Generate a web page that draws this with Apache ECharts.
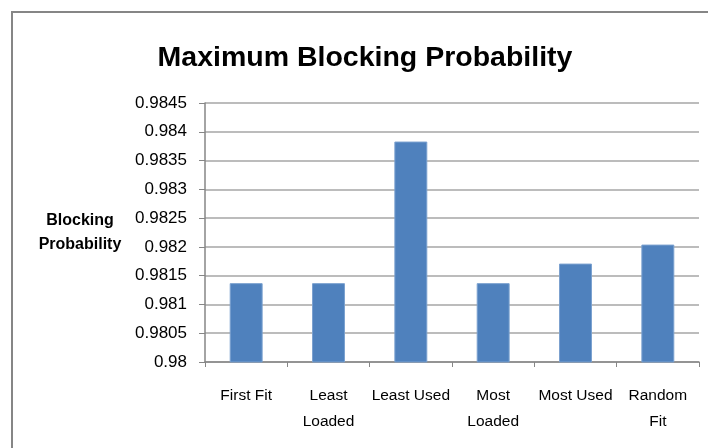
<!DOCTYPE html>
<html>
<head>
<meta charset="utf-8">
<script src="https://cdn.jsdelivr.net/npm/echarts@6/dist/echarts.min.js"></script>
<style>
  html, body { margin: 0; padding: 0; background: #fff; }
  #chart { width: 708px; height: 448px; position: relative; }
  /* chart-area frame: only the top and left edges fall inside the window */
  #frame { position: absolute; left: 11px; top: 11px; width: 720px; height: 460px;
           border-top: 2px solid #868686; border-left: 2px solid #868686; pointer-events: none; }
</style>
</head>
<body>
<div id="chart"></div>
<div id="frame"></div>
<script>
const categories = ['First Fit', 'Least\nLoaded', 'Least Used', 'Most\nLoaded', 'Most Used', 'Random\nFit'];
const blockingProbability = [0.98137, 0.98137, 0.98383, 0.98137, 0.98171, 0.98204];
const yMin = 0.98, yMax = 0.9845, yStep = 0.0005;

const FONT = "'Liberation Sans', Arial, sans-serif";

const chart = echarts.init(document.getElementById('chart'), null, { renderer: 'canvas' });
chart.setOption({
  animation: false,
  backgroundColor: '#ffffff',
  title: {
    text: 'Maximum Blocking Probability',
    left: 360, top: 39, textAlign: 'center',
    textStyle: { fontFamily: FONT, fontWeight: 'bold', fontSize: 28.5, color: '#000' }
  },
  grid: { left: 205, right: 9, top: 103, bottom: 86 },
  xAxis: {
    type: 'category',
    data: categories,
    axisLine: { lineStyle: { color: '#868686', width: 1.5 } },
    axisTick: { show: true, alignWithLabel: false, length: 5, lineStyle: { color: '#868686' } },
    axisLabel: { fontFamily: FONT, fontSize: 15.5, color: '#000', margin: 21, lineHeight: 26, interval: 0 }
  },
  yAxis: {
    type: 'value',
    min: yMin, max: yMax, interval: yStep,
    name: 'Blocking\nProbability',
    nameLocation: 'middle', nameRotate: 0, nameGap: 125,
    nameTextStyle: { fontFamily: FONT, fontWeight: 'bold', fontSize: 16, color: '#000', lineHeight: 24, align: 'center' },
    axisLine: { show: true, lineStyle: { color: '#868686', width: 1.5 } },
    axisTick: { show: true, length: 6, lineStyle: { color: '#868686' } },
    axisLabel: { fontFamily: FONT, fontSize: 17, color: '#000', margin: 18 },
    splitLine: { lineStyle: { color: '#a6a6a6', width: 1.5 } }
  },
  series: [{
    type: 'bar',
    data: blockingProbability,
    barWidth: '40%',
    itemStyle: { color: '#4f81bd', borderColor: '#7aa0cf', borderWidth: 1 }
  }]
});
</script>
</body>
</html>
